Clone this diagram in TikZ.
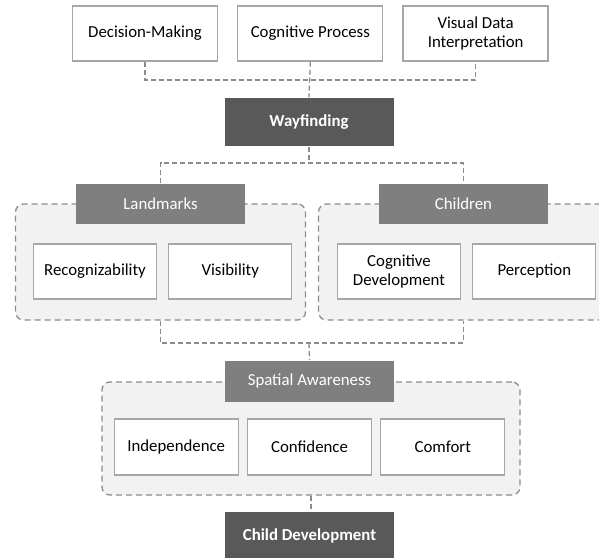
\documentclass[tikz,border=0pt]{standalone}
\usepackage{fontspec}
\setmainfont{Carlito}
\usetikzlibrary{positioning,fit,calc}
\definecolor{darkbox}{HTML}{595959}
\definecolor{headbox}{HTML}{7F7F7F}
\definecolor{groupfill}{HTML}{F2F2F2}
\definecolor{edgegray}{HTML}{A6A6A6}
\definecolor{linkgray}{HTML}{8C8C8C}
\tikzset{%
	% Specifications for style of nodes:
	base/.style = {rectangle, draw=edgegray, line width=1.3pt, fill=white,
		minimum width=145pt, minimum height=55pt, inner sep=2pt,
		text centered, align=center, font=\fontsize{16.8}{19}\selectfont},
	item/.style = {base, minimum width=123pt},
	mainbox/.style = {base, draw=none, fill=darkbox, text=white,
		minimum width=169pt, minimum height=48pt,
		font=\fontsize{16.8}{19}\selectfont\bfseries},
	headbox/.style = {base, draw=none, fill=headbox, text=white,
		minimum width=169pt, minimum height=40pt},
	group/.style = {rectangle, rounded corners=8pt, draw=linkgray, dashed,
		dash pattern=on 6pt off 4pt, line width=1.3pt, fill=groupfill,
		minimum width=290pt, minimum height=116pt},
	link/.style = {draw=linkgray, line width=1.3pt, dash pattern=on 5pt off 3pt},
}
\pgfdeclarelayer{background}
\pgfsetlayers{background,main}

\begin{document}
\begin{tikzpicture}[x=1pt, y=-1pt]
\clip (0,0) rectangle (599,557);

\begin{pgfonlayer}{main}
%% top row
\node (decision)   [base] at (145,33.5)  {Decision-Making};
\node (cogproc)    [base, right=19pt of decision] {Cognitive Process};
\node (visual)     [base, right=19pt of cogproc]  {Visual Data\\Interpretation};
\node (wayfinding) [mainbox] at (309,122) {Wayfinding};

%% landmarks and children
\node (landmarks)  [headbox] at (160.5,204) {Landmarks};
\node (children)   [headbox] at (463.5,204) {Children};
\node (recog)      [item] at (95,271.5)    {Recognizability};
\node (visib)      [item, right=11pt of recog]  {Visibility};
\node (cogdev)     [item] at (399,271.5)   {Cognitive\\Development};
\node (percep)     [item, right=11pt of cogdev] {Perception};

%% spatial awareness
\node (spatial)    [headbox, minimum height=41pt] at (309.5,381) {Spatial Awareness};
\node (confid)     [item, minimum width=124pt, minimum height=56pt] at (309.5,447) {Confidence};
\node (indep)      [item, minimum width=124pt, minimum height=56pt, left=8pt of confid]  {Independence};
\node (comfort)    [item, minimum width=124pt, minimum height=56pt, right=8pt of confid] {Comfort};
\node (childdev)   [mainbox] at (309.5,536) {Child Development};
\end{pgfonlayer}

\begin{pgfonlayer}{background}
\node (landgroup)  [group] at (160.5,262) {};
\node (childgroup) [group] at (463.5,262) {};
\node (spatgroup)  [group, minimum width=418pt, minimum height=113pt] at (311,438.5) {};

\coordinate (jtop) at (309,80);
\coordinate (jmid) at (309,163);
\coordinate (jlow) at (309,343);

%% Specification of lines between nodes
\draw[link] (decision.south) |- (jtop) -| (visual.south);
\draw[link] (cogproc.south) -- (wayfinding.north);
\draw[link] (wayfinding.south) -- (jmid);
\draw[link] (landmarks.north) |- (jmid) -| (children.north);
\draw[link] (landgroup.south) |- (jlow) -| (childgroup.south);
\draw[link] (jlow) -- (spatial.north);
\draw[link] (spatgroup.south) -- (spatgroup.south |- childdev.north);
\end{pgfonlayer}

\end{tikzpicture}
\end{document}
